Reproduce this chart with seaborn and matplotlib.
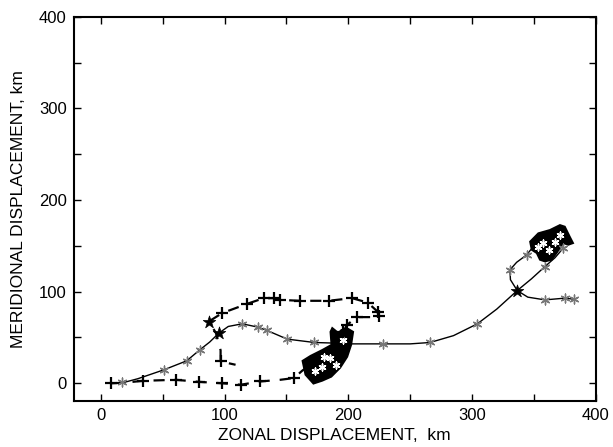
import numpy as np
import pandas as pd
import matplotlib
matplotlib.use("Agg")
import matplotlib.pyplot as plt
import seaborn as sns
from matplotlib.ticker import MultipleLocator

# ---- data (km) ----
# solid trajectory (line vertices)
solid_x = [17.5, 30, 51, 69.4, 80, 88, 95.4, 103, 114.3, 126.9, 134.4, 150.6, 172.6, 185, 200,
           228, 250, 266, 285, 304.3, 320, 336.5, 348, 358.9, 367, 373.6,
           368, 358, 350, 344, 336, 330.6, 331, 336.5, 345, 358.9, 375, 382]
solid_y = [0.5, 5, 14.7, 24.5, 36.5, 45, 54.7, 62, 64.9, 61.3, 57.6, 48.2, 44.5, 44, 43,
           43, 43, 44.5, 52, 64.9, 81, 101.2, 114, 127.4, 137, 147.4,
           155, 160, 150, 140, 132, 123.8, 113, 101.2, 94, 91, 92.9, 91.8]
# solid-series asterisk markers
star_x = [17.5, 51, 69.4, 80, 114.3, 126.9, 134.4, 150.6, 172.6, 228, 266, 304.3,
          358.9, 373.6, 344, 330.6, 358.9, 375, 382]
star_y = [0.9, 14.7, 24.5, 36.5, 64.9, 61.3, 57.6, 48.2, 44.5, 43, 44.5, 64.9,
          127.4, 147.4, 140, 123.8, 91, 92.9, 91.8]
# dark crossing stars
dark_x = [95.4, 336.5, 87.3]
dark_y = [54.7, 101.2, 67.4]

# dashed trajectory (line vertices)
dash_x = [8.6, 17.5, 34.4, 60.5, 79, 98, 113, 129, 145, 156, 163, 175, 186, 193, 196, 199,
          207, 219, 224.4, 223.6, 215.6, 203, 184, 161, 145.2, 139.8, 131.7, 118.3, 98.1,
          87.3, 93, 96.8, 96.8, 108.9]
dash_y = [0, 0.5, 2.7, 3.8, 1.6, 0, -1.6, 2, 3.8, 5.7, 14, 25, 36, 48, 56.5, 63.8,
          72.2, 72.2, 73.6, 78.3, 88.1, 92.9, 90, 90, 91, 92.9, 92.9, 86.7, 76.6,
          67.4, 55, 36, 23.8, 20.2]
# dashed-series plus markers
plus_x = [8.6, 34.4, 60.5, 79, 98, 113, 129, 156, 196, 199, 207, 224.4, 223.6, 215.6,
          203, 184, 161, 145.2, 139.8, 131.7, 118.3, 98.1, 96.8]
plus_y = [0, 2.7, 3.8, 1.6, 0, -1.6, 2, 5.7, 56.5, 63.8, 72.2, 73.6, 78.3, 88.1,
          92.9, 90, 90, 91, 92.9, 92.9, 86.7, 76.6, 23.8]

# dense tangled regions (outlines)
blob1_x = [162.9, 165.3, 171.8, 179, 186.3, 193.5, 199.2, 202.4, 204, 200, 194.4, 192,
           187, 185.5, 186.3, 179, 169.4]
blob1_y = [24.5, 9.3, -0.5, 2.7, 7.1, 16.9, 28.9, 42, 56.2, 59.4, 58.3, 55,
           60.5, 56.2, 42, 36.5, 30]
blob2_x = [346.8, 353.5, 362.9, 371, 375, 379, 381.7, 377.7, 373.6, 368.3, 364.3, 358.9,
           354.8, 352.2, 348.1]
blob2_y = [154.6, 163.8, 167.4, 172.8, 171, 160, 152.9, 151, 152.9, 142, 134.7, 132.8,
           134.7, 142, 145.6]
# white gaps inside the tangles
gap_x = [178.8, 185.5, 173.4, 180, 196, 190, 357.5, 367, 371, 353, 362]
gap_y = [18.3, 27.5, 12.9, 29, 47, 20, 152.9, 154.6, 162, 149, 145]

x_ticks = [0, 100, 200, 300, 400]
y_ticks = [0, 100, 200, 300, 400]

# ---- plot ----
sns.set_style("ticks")
plt.rcParams['font.family'] = ['Liberation Sans', 'DejaVu Sans']
plt.rcParams['text.color'] = 'black'
plt.rcParams['axes.labelcolor'] = 'black'

fig = plt.figure(figsize=(6.13, 4.47), dpi=100)
ax = fig.add_axes([0.12, 0.1036, 0.852, 0.859])

solid_df = pd.DataFrame({"x": solid_x, "y": solid_y})
dash_df = pd.DataFrame({"x": dash_x, "y": dash_y})

sns.lineplot(data=solid_df, x="x", y="y", sort=False, estimator=None, color="black",
             linewidth=1.0, ax=ax)
sns.lineplot(data=dash_df, x="x", y="y", sort=False, estimator=None, color="black",
             linewidth=1.6, linestyle=(0, (5, 4.5)), ax=ax)

ax.fill(blob1_x, blob1_y, color="black", linewidth=1.2, zorder=3)
ax.fill(blob2_x, blob2_y, color="black", linewidth=1.2, zorder=3)
ax.scatter(gap_x, gap_y, marker=(6, 2, 0), s=24, color="white", linewidths=1.1, zorder=4)

sns.scatterplot(x=star_x, y=star_y, marker=(6, 2, 0), s=40, color="#777777",
                linewidth=1.0, ax=ax, zorder=5)
sns.scatterplot(x=plus_x, y=plus_y, marker="+", s=70, color="black",
                linewidth=1.6, ax=ax, zorder=5)
sns.scatterplot(x=dark_x, y=dark_y, marker="*", s=90, color="black",
                linewidth=0.5, edgecolor="black", ax=ax, zorder=6)

ax.set_xlim(-22, 400)
ax.set_ylim(-19, 400)
ax.set_xticks(x_ticks)
ax.set_yticks(y_ticks)
ax.xaxis.set_minor_locator(MultipleLocator(50))
ax.yaxis.set_minor_locator(MultipleLocator(50))
ax.tick_params(which="both", direction="in", top=True, right=True, labelsize=12,
               width=1.0, colors="black", labelcolor="black")
ax.tick_params(which="major", length=5, pad=5)
ax.tick_params(which="minor", length=5)
for s in ax.spines.values():
    s.set_linewidth(1.5)
    s.set_color("black")

ax.set_xlabel("ZONAL DISPLACEMENT,  km", fontsize=12.5, labelpad=4, color="black")
ax.set_ylabel("MERIDIONAL DISPLACEMENT, km", fontsize=12.5, labelpad=9, color="black")

fig.savefig("out.png", dpi=100)
